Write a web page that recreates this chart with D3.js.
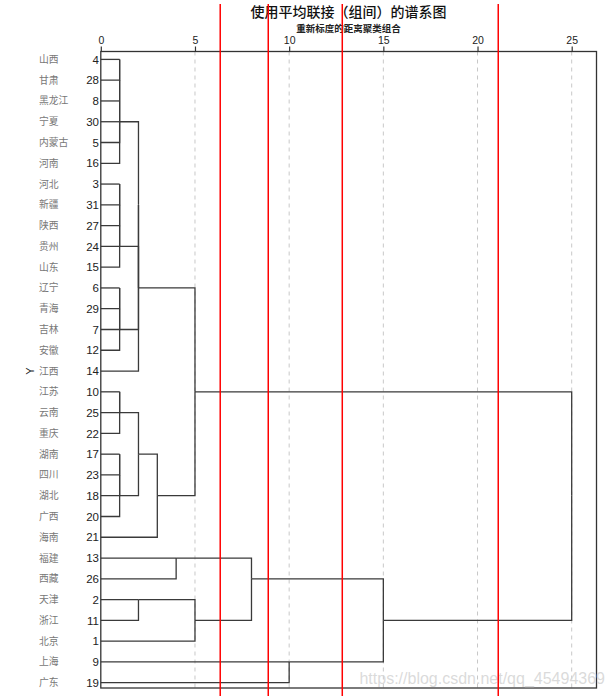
<!DOCTYPE html>
<html><head><meta charset="utf-8">
<script src="https://cdn.jsdelivr.net/npm/d3@7/dist/d3.min.js"></script>
<style>
html,body{margin:0;padding:0;background:#fff;}
svg{display:block;}
</style></head>
<body>
<svg id="chart" width="615" height="696"></svg>
<script>
// ---- data ----
const title = "使用平均联接（组间）的谱系图";
const subtitle = "重新标度的距离聚类组合";
const yLabel = "Y";
const leafNames = ["山西","甘肃","黑龙江","宁夏","内蒙古","河南","河北","新疆","陕西","贵州","山东","辽宁","青海","吉林","安徽","江西","江苏","云南","重庆","湖南","四川","湖北","广西","海南","福建","西藏","天津","浙江","北京","上海","广东"];
const leafIds = [4,28,8,30,5,16,3,31,27,24,15,6,29,7,12,14,10,25,22,17,23,18,20,21,13,26,2,11,1,9,19];
const tickValues = [0,5,10,15,20,25];
const cutLines = [6.34, 8.89, 12.82, 21.10];   // red annotation lines (rescaled distance)
const watermark = "https://blog.csdn.net/qq_45494369";

// merge tree: [height, left, right]; leaves are case ids
const groupA = [1, [1, [1, 4, 28], [1, 8, [1, 30, 5]]], 16];
const groupB = [1, [1, [1, [1, 3, 31], 27], 24], 15];
const groupC = [1, [1, [1, 6, 29], 7], 12];
const clusterD = [2, [2, groupA, [2, groupB, groupC]], 14];
const groupE1 = [1, [1, 10, 25], 22];
const groupE2 = [1, [1, [1, 17, 23], 18], 20];
const clusterF = [3, [2, groupE1, groupE2], 21];
const clusterDF = [5, clusterD, clusterF];
const clusterG = [8, [4, 13, 26], [5, [2, 2, 11], 1]];
const clusterH = [15, clusterG, [10, 9, 19]];
const tree = [25, clusterDF, clusterH];

// ---- layout ----
const svg = d3.select("#chart");
const pL = 100.8, pR = 596.5, pT = 51.5, pB = 688;
const x = d3.scaleLinear().domain([0, 25]).range([pL, 571.7]);
const y = d3.scalePoint().domain(leafIds).range([59.4, 682.7]);

const root = d3.hierarchy(tree, d => Array.isArray(d) ? d.slice(1) : null);
root.eachAfter(n => {
  if (n.children) {
    n.h = n.data[0];
    n.row = Math.floor((n.children[0].row + n.children[1].row) / 2);
  } else {
    n.h = 0;
    n.row = leafIds.indexOf(n.data);
  }
});
const rowY = r => y(leafIds[r]);

// grid lines
svg.append("g").selectAll("line").data(tickValues.slice(1)).join("line")
  .attr("x1", d => x(d)).attr("x2", d => x(d))
  .attr("y1", pT).attr("y2", pB)
  .attr("stroke", "#c8c8c8").attr("stroke-width", 1).attr("stroke-dasharray", "4,4");

// dendrogram links
svg.append("g").selectAll("path").data(root.links()).join("path")
  .attr("fill", "none").attr("stroke", "#3a3a3a").attr("stroke-width", 1.3)
  .attr("d", l => `M${x(l.target.h)},${rowY(l.target.row)}H${x(l.source.h)}V${rowY(l.source.row)}`);

// frame
svg.append("rect").attr("x", pL).attr("y", pT).attr("width", pR - pL).attr("height", pB - pT)
  .attr("fill", "none").attr("stroke", "#333").attr("stroke-width", 1.3);

// top axis
const axis = svg.append("g").attr("transform", `translate(0,${pT})`)
  .call(d3.axisTop(x).tickValues(tickValues).tickSize(5).tickPadding(3));
axis.select(".domain").remove();
axis.selectAll(".tick line").attr("stroke", "#333").attr("stroke-width", 1.2);
axis.selectAll(".tick text").attr("font-family", "Liberation Sans, Arial, sans-serif")
  .attr("font-size", 10.5).attr("fill", "#222");

// leaf labels
const lab = svg.append("g");
lab.selectAll("text.id").data(leafIds).join("text").attr("class", "id")
  .attr("x", 99).attr("y", d => y(d)).attr("dy", "0.36em")
  .attr("text-anchor", "end").attr("font-family", "Liberation Sans, Arial, sans-serif")
  .attr("font-size", 11.5).attr("fill", "#222").text(d => d);
lab.selectAll("text.nm").data(leafNames).join("text").attr("class", "nm")
  .attr("x", 39).attr("y", (d, i) => y(leafIds[i])).attr("dy", "0.36em")
  .attr("font-family", "Noto Sans CJK SC, sans-serif")
  .attr("font-size", 9.8).attr("fill", "#777").text(d => d);

// Y label
svg.append("text").attr("transform", `translate(30,${y(14)}) rotate(-90)`)
  .attr("text-anchor", "middle").attr("dy", "0.36em")
  .attr("font-family", "Liberation Sans, Arial, sans-serif").attr("font-size", 11)
  .attr("fill", "#222").text(yLabel);

// titles
svg.append("text").attr("x", 348.5).attr("y", 17).attr("text-anchor", "middle")
  .attr("font-family", "Noto Sans CJK SC, sans-serif").attr("font-size", 14).attr("font-weight", 500)
  .attr("fill", "#111").text(title);
svg.append("text").attr("x", 348.5).attr("y", 32).attr("text-anchor", "middle")
  .attr("font-family", "Noto Sans CJK SC, sans-serif").attr("font-size", 9.5).attr("font-weight", 700)
  .attr("fill", "#222").text(subtitle);

// watermark
svg.append("text").attr("x", 605).attr("y", 684).attr("text-anchor", "end")
  .attr("font-family", "Liberation Sans, Arial, sans-serif").attr("font-size", 16)
  .attr("fill", "#d4d4d4").attr("fill-opacity", 0.85).text(watermark);

// red cut lines
svg.append("g").selectAll("line").data(cutLines).join("line")
  .attr("x1", d => x(d)).attr("x2", d => x(d))
  .attr("y1", 4).attr("y2", 696)
  .attr("stroke", "#ff0000").attr("stroke-width", 1.5);
</script>
</body></html>
